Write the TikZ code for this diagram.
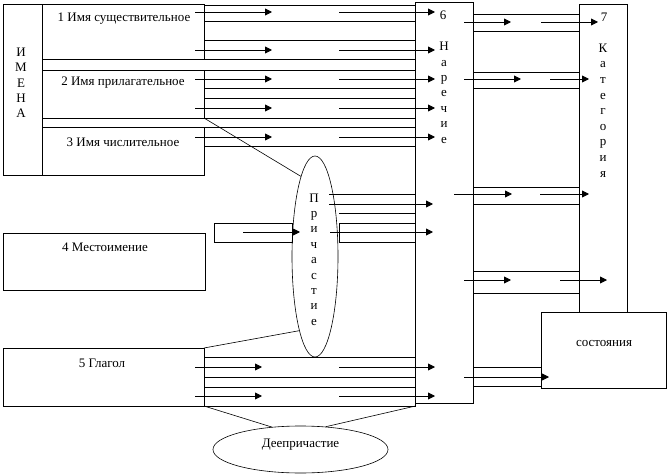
\documentclass[tikz,border=0pt]{standalone}
\usepackage{fontspec}
\setmainfont{Liberation Serif}
\usetikzlibrary{arrows.meta,shapes.geometric}
\begin{document}
\begin{tikzpicture}[x=1pt,y=-1pt,line width=0.9pt,
  lbl/.style={font=\fontsize{13}{15}\selectfont,inner sep=0pt},
  ltr/.style={lbl,text height=8.5pt,text depth=0pt},
  arr/.style={-{Triangle[length=7pt,width=7pt]}},
  thinl/.style={line width=0.6pt},
  oval/.style={ellipse,draw,thinl,inner sep=0pt}]
\fill[white] (0,0) rectangle (669,476);
\useasboundingbox (0,0) rectangle (669,476);
% left boxes
\draw (3.5,4) rectangle (42,175.5);
\draw (42,4) rectangle (204,59.5);
\draw (42,70) rectangle (204,118);
\draw (42,127) rectangle (204,175.5);
\draw (3.5,233) rectangle (205,290);
\draw (3.5,348) rectangle (204,406);
% right boxes
\draw (415.5,2.5) rectangle (473,403);
\draw (579,4.5) rectangle (627,312);
\draw (541,312) rectangle (666,388);
% top bands
\foreach \a/\b in {5/21,21/40,40/59.5,70/88,88/98,98/118,127/146}
  \draw (204,\a) rectangle (415.5,\b);
\foreach \y in {12,50,79,108,137}{
  \draw[arr] (195,\y) -- (272,\y);
  \draw[arr] (339,\y) -- (435,\y);}
% bands between Наречие and Категория
\foreach \a/\b in {14/31,72/88,187/204,271/293}
  \draw (473,\a) rectangle (579,\b);
\draw (473,367) rectangle (541,386);
\draw[arr] (464,22) -- (511,22);  \draw[arr] (541,22) -- (598,22);
\draw[arr] (464,79) -- (521,79);  \draw[arr] (550,79) -- (589,79);
\draw[arr] (454,194) -- (512,194); \draw[arr] (540,194) -- (589,194);
\draw[arr] (464,280) -- (511,280); \draw[arr] (560,280) -- (607,280);
\draw[arr] (464,377) -- (549,377);
% middle (Местоимение -> Причастие -> Наречие)
\draw (214,223) rectangle (292,242);
\draw[arr] (243,232) -- (300,232);
\draw (329,194) -- (415.5,194);
\draw (339,213) -- (415.5,213);
\draw (339,223) rectangle (415.5,242);
\draw[arr] (329,204) -- (433,204);
\draw[arr] (330,232) -- (433,232);
% Глагол bands
\foreach \a/\b in {357/377,377/387,387/406}
  \draw (204,\a) rectangle (415.5,\b);
\foreach \y in {367,396}{
  \draw[arr] (195,\y) -- (262,\y);
  \draw[arr] (339,\y) -- (435,\y);}
% ellipses
\node[oval,minimum width=46pt,minimum height=201pt] (prich) at (315,256.5) {};
\node[oval,minimum width=175pt,minimum height=47pt] (deepr) at (300.5,449.5) {};
\coordinate (c2) at (204,118);
\coordinate (c5) at (204,348);
\coordinate (g1) at (204,406);
\coordinate (g2) at (415.5,406);
\draw[thinl] (c2) -- (prich.100);
\draw[thinl] (c5) -- (prich.258);
\draw[thinl] (g1) -- (deepr.142);
\draw[thinl] (g2) -- (deepr.42);
% texts
\node[lbl] (t1) at (124,19) {1 Имя существительное};
\node[lbl] (t2) at (123,83) {2 Имя прилагательное};
\node[lbl] (t3) at (123,142) {3 Имя числительное};
\node[lbl] (t4) at (105,247) {4 Местоимение};
\node[lbl] (t5) at (102,363) {5 Глагол};
\node[lbl] (t8) at (300.5,445) {Деепричастие};
\node[lbl] (t9) at (604,343) {состояния};
\foreach \ch [count=\i] in {И,М,Е,Н,А}
  \node[ltr] (im\i) at (21,{52+15.4*(\i-1)}) {\ch};
\node[ltr] (n0) at (443,15.5) {6};
\foreach \ch [count=\i] in {Н,а,р,е,ч,и,е}
  \node[ltr] (n\i) at (444,{46.5+15.4*(\i-1)}) {\ch};
\node[ltr] (k0) at (604,17) {7};
\foreach \ch [count=\i] in {К,а,т,е,г,о,р,и,я}
  \node[ltr] (k\i) at (603,{48+15.6*(\i-1)}) {\ch};
\foreach \ch [count=\i] in {П,р,и,ч,а,с,т,и,е}
  \node[ltr] (p\i) at (314,{198+15.35*(\i-1)}) {\ch};
\end{tikzpicture}
\end{document}
